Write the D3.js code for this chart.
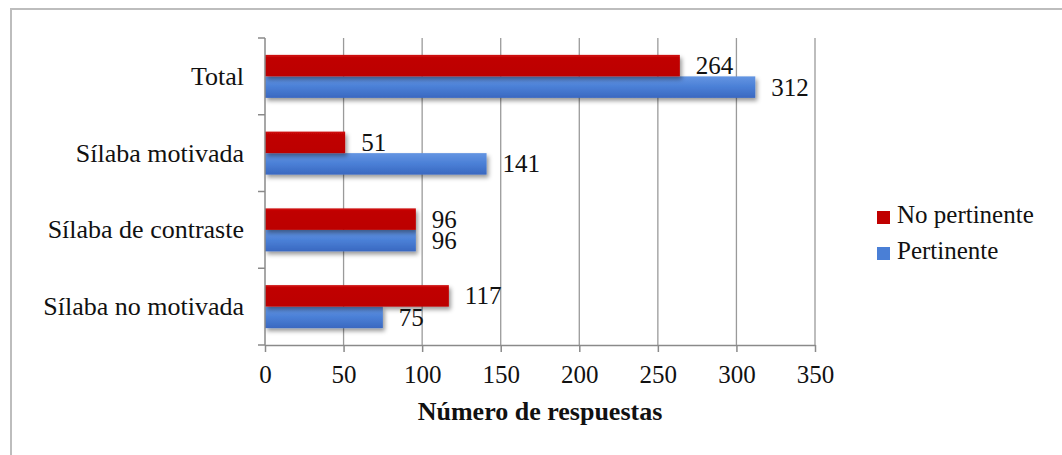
<!DOCTYPE html>
<html><head><meta charset="utf-8">
<script src="https://cdn.jsdelivr.net/npm/d3@7"></script>
<style>
html,body{margin:0;padding:0;background:#fff;}
svg{display:block;}
svg text{font-family:"Liberation Serif","Times New Roman",serif;}
</style></head>
<body>
<svg id="chart" width="1062" height="455"></svg>
<script>
const categories = ["Total", "Sílaba motivada", "Sílaba de contraste", "Sílaba no motivada"];
const seriesNames = ["No pertinente", "Pertinente"];
const noPertinente = [264, 51, 96, 117];
const pertinente = [312, 141, 96, 75];
const xTicks = [0, 50, 100, 150, 200, 250, 300, 350];
const xTitle = "Número de respuestas";

const FONT = "Liberation Serif";
const svg = d3.select("#chart");
const defs = svg.append("defs");

const gRed = defs.append("linearGradient").attr("id", "gRed").attr("x1", 0).attr("y1", 0).attr("x2", 0).attr("y2", 1);
gRed.append("stop").attr("offset", "0%").attr("stop-color", "#d01010");
gRed.append("stop").attr("offset", "15%").attr("stop-color", "#c00000");
gRed.append("stop").attr("offset", "100%").attr("stop-color", "#bc0000");
const gBlue = defs.append("linearGradient").attr("id", "gBlue").attr("x1", 0).attr("y1", 0).attr("x2", 0).attr("y2", 1);
gBlue.append("stop").attr("offset", "0%").attr("stop-color", "#6495e2");
gBlue.append("stop").attr("offset", "50%").attr("stop-color", "#4a7fd6");
gBlue.append("stop").attr("offset", "100%").attr("stop-color", "#3a68c0");

const shadow = defs.append("filter").attr("id", "shadow").attr("x", "-5%").attr("y", "-30%").attr("width", "115%").attr("height", "180%");
shadow.append("feDropShadow").attr("dx", 2).attr("dy", 3).attr("stdDeviation", 2).attr("flood-color", "#000").attr("flood-opacity", 0.4);

// outer frame
svg.append("rect").attr("x", 11).attr("y", 9).attr("width", 1060).attr("height", 460)
  .attr("fill", "none").attr("stroke", "#bdbdbd").attr("stroke-width", 2);

const x = d3.scaleLinear().domain([0, 350]).range([265, 815]);
const y = d3.scaleBand().domain(categories).range([38, 345]).padding(0);
const inner = d3.scaleBand().domain(seriesNames).range([-21.5, 21.5]);
const colors = {"No pertinente": "url(#gRed)", "Pertinente": "url(#gBlue)"};
const legendColors = {"No pertinente": "#c00000", "Pertinente": "#4a7fd6"};

// gridlines
svg.append("g").selectAll("line").data(xTicks.slice(1)).join("line")
  .attr("x1", d => x(d)).attr("x2", d => x(d))
  .attr("y1", 38).attr("y2", 345)
  .attr("stroke", "#9a9a9a").attr("stroke-width", 1.3);

// bars
const rows = categories.map((c, i) => ({cat: c, vals: [
  {s: "No pertinente", v: noPertinente[i]},
  {s: "Pertinente", v: pertinente[i]}]}));

const grp = svg.append("g").selectAll("g").data(rows).join("g")
  .attr("transform", d => `translate(0,${y(d.cat) + y.bandwidth() / 2})`);
grp.selectAll("rect").data(d => d.vals.slice().reverse()).join("rect")
  .attr("x", x(0)).attr("y", d => inner(d.s))
  .attr("width", d => x(d.v) - x(0)).attr("height", inner.bandwidth())
  .attr("fill", d => colors[d.s]).attr("filter", "url(#shadow)");
grp.selectAll("text").data(d => d.vals).join("text")
  .attr("x", d => x(d.v) + 16)
  .attr("y", d => inner(d.s) + inner.bandwidth() / 2 + 8.5)
  .attr("font-family", FONT).attr("font-size", 25).attr("fill", "#111")
  .text(d => d.v);

// x axis
const xAxis = svg.append("g").attr("transform", "translate(0,345)")
  .call(d3.axisBottom(x).tickValues(xTicks).tickSize(7).tickPadding(13).tickSizeOuter(0));
xAxis.select(".domain").attr("stroke", "#8a8a8a").attr("stroke-width", 1.5);
xAxis.selectAll(".tick line").attr("stroke", "#8a8a8a").attr("stroke-width", 1.5);
xAxis.selectAll(".tick text").attr("font-family", FONT).attr("font-size", 25).attr("fill", "#111");

// y axis line + ticks at band edges
const yEdges = categories.map(c => y(c)).concat([y.range()[1]]);
svg.append("line").attr("x1", x(0)).attr("x2", x(0)).attr("y1", 38).attr("y2", 345)
  .attr("stroke", "#8a8a8a").attr("stroke-width", 1.5);
svg.append("g").selectAll("line").data(yEdges).join("line")
  .attr("x1", x(0) - 7).attr("x2", x(0)).attr("y1", d => d).attr("y2", d => d)
  .attr("stroke", "#8a8a8a").attr("stroke-width", 1.5);
svg.append("g").selectAll("text").data(categories).join("text")
  .attr("x", 244).attr("y", d => y(d) + y.bandwidth() / 2 + 8.5)
  .attr("text-anchor", "end").attr("font-family", FONT).attr("font-size", 26).attr("fill", "#111")
  .text(d => d);

// x title
svg.append("text").attr("x", (x(0) + x(350)) / 2).attr("y", 420)
  .attr("text-anchor", "middle").attr("font-family", FONT).attr("font-size", 26).attr("font-weight", "bold").attr("fill", "#111")
  .text(xTitle);

// legend
const leg = svg.append("g").selectAll("g").data(seriesNames).join("g")
  .attr("transform", (d, i) => `translate(877,${211 + i * 36})`);
leg.append("rect").attr("width", 13).attr("height", 13).attr("fill", d => legendColors[d]);
leg.append("text").attr("x", 20).attr("y", 12).attr("font-family", FONT).attr("font-size", 25).attr("fill", "#111").text(d => d);
</script>
</body></html>
